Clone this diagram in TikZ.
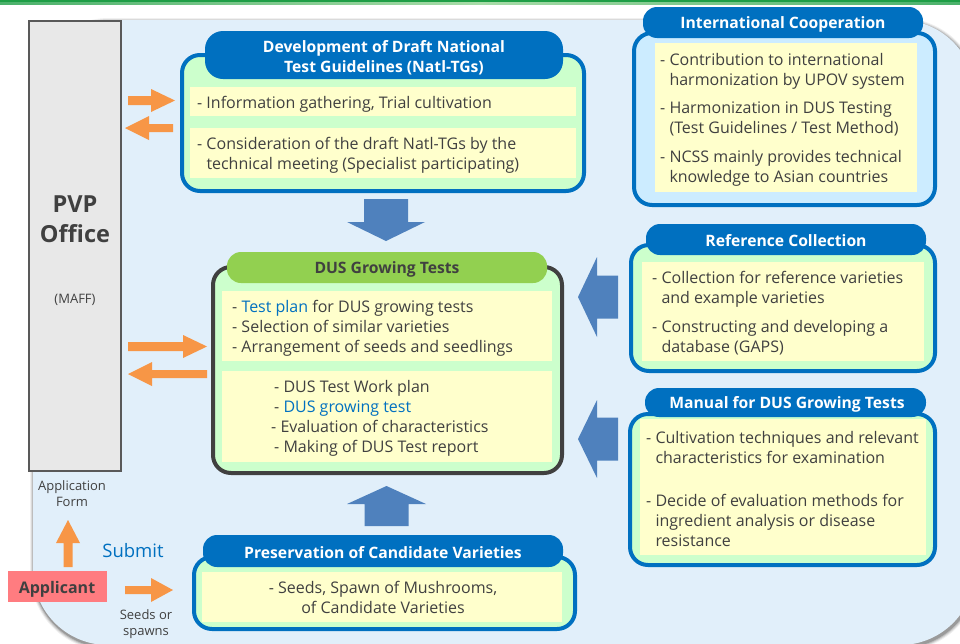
\documentclass[tikz,border=0pt]{standalone}
\usepackage{fontspec}
\setmainfont{Open Sans}
\definecolor{bgblue}{HTML}{E1EFFA}
\definecolor{mblue}{HTML}{0070C0}
\definecolor{lgreen}{HTML}{CCFFCC}
\definecolor{lyellow}{HTML}{FFFFCC}
\definecolor{lblue}{HTML}{CCECFF}
\definecolor{dtext}{HTML}{404040}
\definecolor{dgray}{HTML}{404040}
\definecolor{hgreen}{HTML}{92D050}
\definecolor{orng}{HTML}{F79646}
\definecolor{barrow}{HTML}{4F81BD}
\definecolor{salmon}{HTML}{FF7C80}
\definecolor{pvpfill}{HTML}{E8E8E8}
\definecolor{pvpline}{HTML}{595959}
\definecolor{topgreen}{HTML}{1E9E46}
\definecolor{topgreenl}{HTML}{A8DCA8}
\newcommand\bodyf{\fontsize{16}{20}\selectfont}
\newcommand\headf{\fontsize{15.7}{20}\selectfont\bfseries}
\newcommand\mkbox[6]{\node[#1, anchor=north west, inner sep=0pt, outer sep=0pt, minimum width={#5-#3}, minimum height={#6-#4}] (#2) at (#3,#4) {};}
% color, tip x, tail x, center y, shaft half, head half, head base x
\newcommand\hfat[7]{\fill[#1] (#2,#4) -- (#7,#4-#6) -- (#7,#4-#5) -- (#3,#4-#5) -- (#3,#4+#5) -- (#7,#4+#5) -- (#7,#4+#6) -- cycle;}
% color, tip y, tail y, center x, shaft half, head half, head base y
\newcommand\vfat[7]{\fill[#1] (#4,#2) -- (#4+#6,#7) -- (#4+#5,#7) -- (#4+#5,#3) -- (#4-#5,#3) -- (#4-#5,#7) -- (#4-#6,#7) -- cycle;}
\begin{document}
\begin{tikzpicture}[x=1pt,y=-1pt,
  outerbox/.style={draw=mblue, line width=4pt, fill=lgreen, rounded corners=18pt},
  headtab/.style={fill=mblue, rounded corners=14pt},
  ybox/.style={fill=lyellow},
  tl/.style={anchor=base west, inner sep=0pt, font=\bodyf, text=dtext},
  tb/.style={anchor=north west, inner sep=0pt, align=left, font=\bodyf, text=dtext},
  hl/.style={anchor=base, inner sep=0pt, font=\headf, text=white},
  small/.style={anchor=base, inner sep=0pt, font=\fontsize{13}{16}\selectfont, text=dtext}]
\useasboundingbox (0,0) rectangle (960,643);
\fill[white] (0,0) rectangle (960,643);
% top green line
\fill[topgreen] (0,0) rectangle (960,2);
\shade[left color=topgreen!80, right color=topgreen!80, middle color=topgreenl] (0,2) rectangle (960,4.5);
% background region with soft shadow
\foreach \o/\op in {4/0.06,3/0.09,2/0.13,1/0.18}
  \fill[black, opacity=\op, rounded corners={75pt+\o pt}] (33-\o+1,20-\o+2) rectangle (975+\o+1,645+\o+2);
\fill[bgblue, rounded corners=75pt] (33,20) rectangle (975,645);

% PVP office
\mkbox{draw=pvpline, line width=2pt, fill=pvpfill}{pvp}{29}{21}{121}{471}
\node[anchor=base, inner sep=0pt, font=\fontsize{23.5}{28}\selectfont\bfseries, text=dtext] (pvp1) at (75,212) {PVP};
\node[anchor=base, inner sep=0pt, font=\fontsize{23.5}{28}\selectfont\bfseries, text=dtext] (pvp2) at (75,242) {Office};
\node[small] (maff) at (75,303) {(MAFF)};
\node[small] (appf1) at (72,490) {Application};
\node[small] (appf2) at (72,506) {Form};
\node[anchor=base, inner sep=0pt, font=\fontsize{18.5}{22}\selectfont, text=mblue] (submit) at (133,557) {Submit};
\mkbox{fill=salmon}{app}{8}{571}{107}{602}
\node[anchor=base, inner sep=0pt, font=\fontsize{16}{20}\selectfont\bfseries, text=dtext] (appt) at (57,593) {Applicant};
\node[small] (seeds1) at (146,619) {Seeds or};
\node[small] (seeds2) at (146,635) {spawns};

% orange arrows
\hfat{orng}{175}{128}{100.5}{4.5}{11.5}{151}
\hfat{orng}{125}{173}{128}{4}{12}{149}
\hfat{orng}{207}{128}{346.5}{4.5}{11.5}{183}
\hfat{orng}{128}{207}{374}{4}{12}{152}
\hfat{orng}{173}{125}{590}{4}{12}{151}
\vfat{orng}{520}{567}{68}{4.5}{12}{543}
% blue block arrows
\vfat{barrow}{241}{199}{386}{22}{39}{222}
\vfat{barrow}{486}{526}{386.5}{22}{39.5}{504}
\hfat{barrow}{578}{618}{297}{21.5}{40}{597}
\hfat{barrow}{578}{618}{439}{21.5}{39}{597}

% Development box
\mkbox{outerbox}{dev}{182}{55}{584}{191}
\mkbox{ybox}{dev1}{190}{87}{576}{116}
\mkbox{ybox}{dev2}{190}{128}{576}{178}
\mkbox{headtab, rounded corners=18pt}{devh}{205}{31}{563}{79}
\node[anchor=north, inner sep=0pt, align=center, font=\headf, text=white] (devt) at (384,38) {\strut Development of Draft National\\Test Guidelines (Natl-TGs)};
\node[tl] (devl1) at (197,108) {- Information gathering, Trial cultivation};
\node[tb] (devl2) at (197,135) {\strut- Consideration of the draft Natl-TGs by the\\\phantom{- }technical meeting (Specialist participating)};

% International cooperation
\mkbox{outerbox, fill=lblue}{ic}{634}{33}{935}{205}
\mkbox{ybox}{icy}{655}{43}{917}{192}
\mkbox{headtab}{ich}{643}{7}{923}{38}
\node[hl] (ict) at (783,28) {International Cooperation};
\node[tb] (icl) at (660,51) {\strut- Contribution to international\\\phantom{- }harmonization by UPOV system\\[8.5pt]- Harmonization in DUS Testing\\\phantom{- }(Test Guidelines / Test Method)\\[8.5pt]- NCSS mainly provides technical\\\phantom{- }knowledge to Asian countries};

% Reference collection
\mkbox{outerbox}{rc}{631}{245}{935}{371}
\mkbox{ybox}{rcy}{642}{262}{924}{361}
\mkbox{headtab}{rch}{646}{224}{926}{255}
\node[hl] (rct) at (786,246) {Reference Collection};
\node[tb] (rcl) at (652,269) {\strut- Collection for reference varieties\\\phantom{- }and example varieties\\[9pt]- Constructing and developing a\\\phantom{- }database (GAPS)};

% Manual
\mkbox{outerbox}{mn}{630}{414}{935}{565}
\mkbox{ybox}{mny}{640}{419}{926}{555}
\mkbox{headtab}{mnh}{645}{388}{926}{417}
\node[hl] (mnt) at (787,408) {Manual for DUS Growing Tests};
\node[tb] (mnl) at (646,429) {\strut- Cultivation techniques and relevant\\\phantom{- }characteristics for examination\\[23pt]- Decide of evaluation methods for\\\phantom{- }ingredient analysis or disease\\\phantom{- }resistance};

% DUS growing tests
\mkbox{outerbox, draw=dgray}{dus}{213}{267}{562}{473}
\mkbox{ybox}{dus1}{222}{291}{552}{361}
\mkbox{ybox}{dus2}{222}{371}{552}{462}
\mkbox{headtab, fill=hgreen}{dush}{227}{252}{547}{283}
\node[hl, text=dtext] (dust) at (387,273) {DUS Growing Tests};
\node[tb] (dusl1) at (232,298) {\strut- \textcolor{mblue}{Test plan} for DUS growing tests\\- Selection of similar varieties\\- Arrangement of seeds and seedlings};
\node[tb] (dusl2) at (274,378) {\strut- DUS Test Work plan\\- \textcolor{mblue}{DUS growing test}\\\hspace*{-3pt}- Evaluation of characteristics\\- Making of DUS Test report};

% Preservation
\mkbox{outerbox}{pc}{194}{557}{575}{629}
\mkbox{ybox}{pcy}{202}{572}{562}{622}
\mkbox{headtab}{pch}{203}{535}{563}{567}
\node[hl] (pct) at (383,558) {Preservation of Candidate Varieties};
\node[anchor=north, inner sep=0pt, align=center, font=\bodyf, text=dtext] (pcl) at (383,579) {\strut- Seeds, Spawn of Mushrooms,\\of Candidate Varieties};
\end{tikzpicture}
\end{document}
